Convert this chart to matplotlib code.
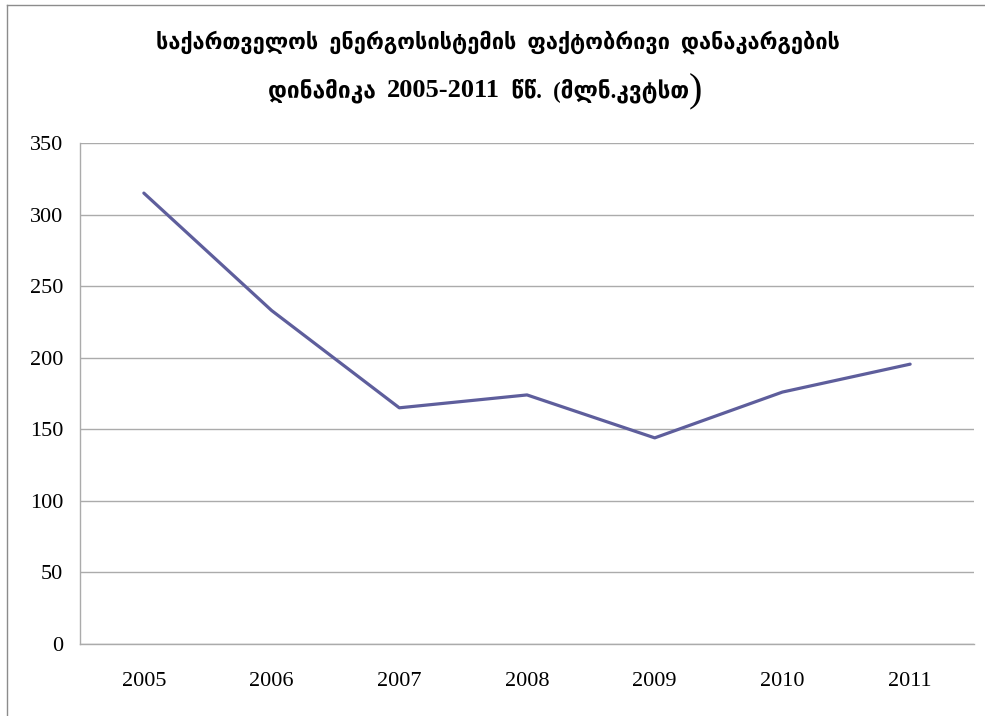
import matplotlib.pyplot as plt
from matplotlib.lines import Line2D

# Data
years = ['2005', '2006', '2007', '2008', '2009', '2010', '2011']
losses = [315, 233, 165, 174, 144, 176, 195.5]
y_ticks = [0, 50, 100, 150, 200, 250, 300, 350]

TITLE_1 = 'საქართველოს  ენერგოსისტემის  ფაქტობრივი  დანაკარგების'
TITLE_2_PARTS = ['დინამიკა  ', '2005-2011', '  წწ.  (მლნ.კვტსთ', ')']

LINE_COLOR = '#5E5E9C'
GRID_COLOR = '#ABABAB'
GEO_FONT = ['Liberation Serif', 'DejaVu Sans']
SERIF = ['Liberation Serif', 'DejaVu Serif']

W, H = 985, 716
fig = plt.figure(figsize=(W / 100, H / 100), dpi=100)
ax = fig.add_axes([80 / W, (H - 644) / H, (974 - 80) / W, (644 - 143) / H])

x = list(range(len(years)))
ax.plot(x, losses, color=LINE_COLOR, linewidth=2.3, solid_capstyle='round')

ax.set_xlim(-0.5, len(years) - 0.5)
ax.set_ylim(0, 350)
ax.set_yticks(y_ticks)
ax.set_xticks(x)
ax.set_xticklabels(years)
ax.grid(axis='y', color=GRID_COLOR, linewidth=1.0)
ax.set_axisbelow(True)

for side in ['top', 'right']:
    ax.spines[side].set_visible(False)
for side in ['left', 'bottom']:
    ax.spines[side].set_color(GRID_COLOR)
    ax.spines[side].set_linewidth(1.0)

ax.tick_params(axis='x', length=0, pad=20)
ax.tick_params(axis='y', length=0, pad=12)
for lab in ax.get_xticklabels() + ax.get_yticklabels():
    lab.set_family(SERIF)
    lab.set_fontsize(16)

# Title line 1
fig.text(0.5 + 5 / W, 1 - 42 / H, TITLE_1, ha='center', va='center', fontsize=15.7,
         fontweight='bold', family=GEO_FONT)

# Title line 2 built from pieces (larger serif digits, big closing paren)
styles = [
    dict(fontsize=16.3, fontweight='bold', family=GEO_FONT),
    dict(fontsize=19, fontweight='bold', family=SERIF),
    dict(fontsize=16.3, fontweight='bold', family=GEO_FONT),
    dict(fontsize=29, fontweight='normal', family=SERIF),
]
y2 = 1 - 97 / H
texts = [fig.text(0, y2, s, ha='left', va='baseline', **st)
         for s, st in zip(TITLE_2_PARTS, styles)]
fig.canvas.draw()
r = fig.canvas.get_renderer()
widths = [t.get_window_extent(r).width for t in texts]
xpos = 268.0
for t, w in zip(texts, widths):
    t.set_x(xpos / W)
    xpos += w
texts[-1].set_y(y2 - 4 / H)

# Outer chart-area frame (left and top edges visible)
fig.add_artist(Line2D([7 / W, 7 / W], [0, 1 - 5 / H], transform=fig.transFigure,
                      color='#8C8C8C', linewidth=1.0))
fig.add_artist(Line2D([7 / W, 1], [1 - 5 / H, 1 - 5 / H], transform=fig.transFigure,
                      color='#8C8C8C', linewidth=1.0))

fig.savefig('out.png', dpi=100)
